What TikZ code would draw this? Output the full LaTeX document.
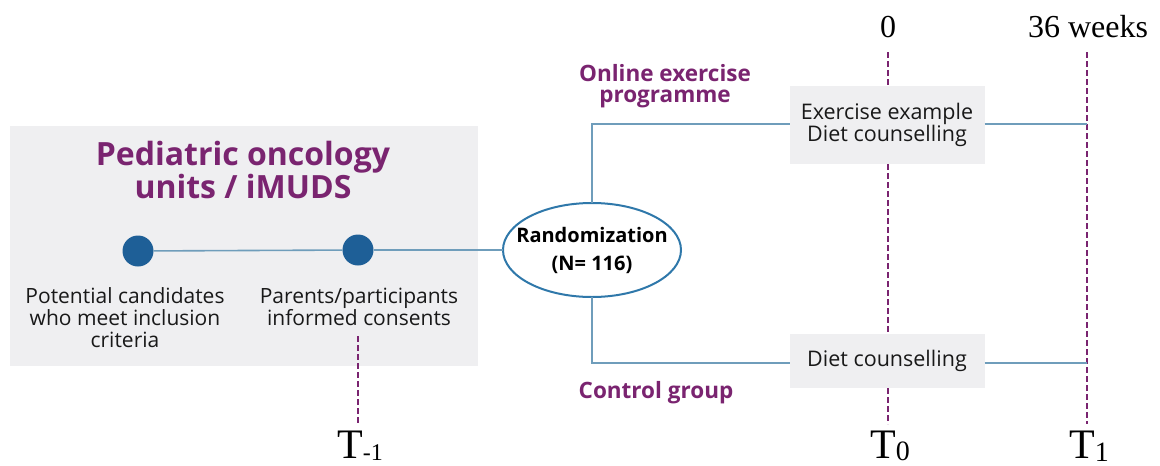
\documentclass[tikz,border=0pt]{standalone}
\usepackage{fontspec}
\setmainfont{Liberation Serif}
\newfontfamily\sansf{Open Sans}
\usetikzlibrary{shapes.geometric}
\definecolor{purp}{HTML}{7A2470}
\definecolor{dotblue}{HTML}{1E5F97}
\definecolor{linkblue}{HTML}{6F9DBB}
\definecolor{ellblue}{HTML}{2F78AA}
\definecolor{boxgray}{HTML}{EFEFF1}
\tikzset{
  every node/.style={inner sep=0pt, outer sep=0pt},
  link/.style={draw=linkblue, line width=1.6pt},
  tick/.style={draw=purp, line width=2pt, dash pattern=on 6pt off 3pt},
  dotn/.style={circle, fill=dotblue, minimum size=31pt},
  body/.style={font=\sansf\fontsize{21}{22}\selectfont, align=center, text=black!90},
  boxt/.style={font=\sansf\fontsize{21.5}{22}\selectfont, align=center, text=black!90},
  head/.style={font=\sansf\bfseries\fontsize{22.5}{20.5}\selectfont, align=center, text=purp},
  grbox/.style={fill=boxgray, minimum width=195pt},
  serifl/.style={font=\fontsize{32}{32}\selectfont},
  tl/.style={font=\fontsize{42}{42}\selectfont}
}
\begin{document}
\begin{tikzpicture}[x=1pt,y=-1pt]
\useasboundingbox (0,0) rectangle (1160,466);
% left grey panel
\node[fill=boxgray, minimum width=468pt, minimum height=240pt, anchor=north west] (panel) at (10,126) {};
\node[font=\sansf\bfseries\fontsize{32}{28}\selectfont, text=purp, align=center] (title) at (243,170) {Pediatric oncology\\units / iMUDS};
\node[dotn] (d1) at (138,251) {};
\node[dotn] (d2) at (358,250) {};
\node[body, anchor=north] (t1) at (125,288) {Potential candidates\\who meet inclusion\\criteria};
\node[body, anchor=north] (t2) at (359,288) {Parents/participants\\informed consents};
% randomization
\node[ellipse, draw=ellblue, line width=2pt, fill=white, minimum width=178pt, minimum height=94pt] (rand) at (592,250) {};
\node[font=\sansf\bfseries\fontsize{20}{28}\selectfont, align=center] (randt) at (rand) {Randomization\\(N= 116)};
\draw[link] (d1) -- (d2);
\draw[link] (d2) -- (rand);
% intervention boxes
\node[grbox, minimum height=78pt, boxt] (ex) at (887,125) {Exercise example\\Diet counselling};
\node[grbox, minimum height=54pt, boxt] (diet) at (887,361) {Diet counselling};
\coordinate (up) at (592,124);
\coordinate (dn) at (592,363);
\draw[link] (rand.north) -- (up) -- (ex.west |- up);
\draw[link] (rand.south) -- (dn) -- (diet.west |- dn);
% time labels
\node[serifl] (zero) at (888,27) {0};
\node[serifl] (wk) at (1088,27) {36 weeks};
\node[tl] (Tm) at (360,446) {T\raisebox{-2pt}{\fontsize{24}{24}\selectfont -1}};
\node[tl] (T0) at (890,446) {T\raisebox{-2.5pt}{\fontsize{28}{28}\selectfont 0}};
\node[tl] (T1) at (1089,446) {T\raisebox{-2.5pt}{\fontsize{28}{28}\selectfont 1}};
\coordinate (m1) at (358,336);
\coordinate (m1b) at (358,424);
\draw[tick] (m1) -- (m1b);
\coordinate (z1) at (888,52);
\coordinate (z2) at (888,424);
\draw[tick] (z1) -- (ex.north -| z1);
\draw[tick] (ex.south -| z1) -- (diet.north -| z1);
\draw[tick] (diet.south -| z1) -- (z2);
\coordinate (w1) at (1087,52);
\coordinate (w2) at (1087,424);
\draw[tick] (w1) -- (w2);
\draw[link] (ex.east |- up) -- (up -| w1);
\draw[link] (diet.east |- dn) -- (dn -| w1);
% arm labels
\node[head] (onl) at (665,86) {Online exercise\\programme};
\node[head] (ctl) at (656,393) {Control group};
\end{tikzpicture}
\end{document}
